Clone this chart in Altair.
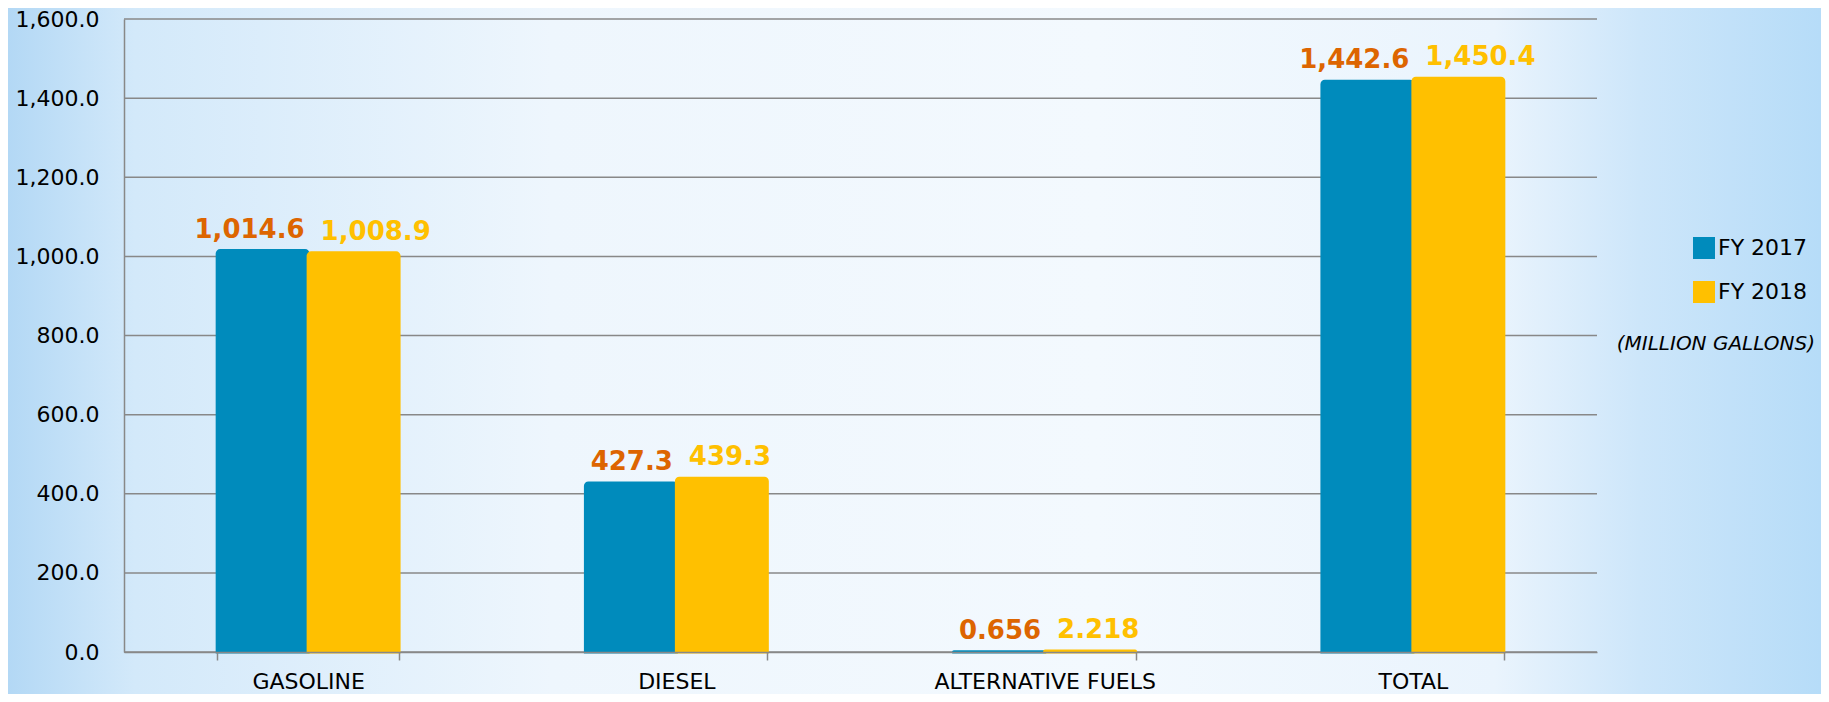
import altair as alt
import pandas as pd

categories = ["GASOLINE", "DIESEL", "ALTERNATIVE FUELS", "TOTAL"]
series = ["FY 2017", "FY 2018"]
fy2017 = [1014.6, 427.3, 0.656, 1442.6]
fy2018 = [1008.9, 439.3, 2.218, 1450.4]
labels2017 = ["1,014.6", "427.3", "0.656", "1,442.6"]
labels2018 = ["1,008.9", "439.3", "2.218", "1,450.4"]
y_ticks = [0, 200, 400, 600, 800, 1000, 1200, 1400, 1600]
bar_colors = ["#008BBC", "#FFC000"]
label_colors = ["#DD6500", "#FFC000"]
unit_note = "(MILLION GALLONS)"

rows = []
for i, c in enumerate(categories):
    rows.append({"category": c, "series": series[0], "value": fy2017[i], "label": labels2017[i]})
    rows.append({"category": c, "series": series[1], "value": fy2018[i], "label": labels2018[i]})
df = pd.DataFrame(rows)

W, H = 1473, 633
PAD = {"left": 116, "top": 11, "right": 224, "bottom": 42}
FONT = "DejaVu Sans"

x_enc = alt.X("category:N", sort=categories,
              scale=alt.Scale(paddingInner=0.506, paddingOuter=0.253),
              axis=alt.Axis(title=None, labelAngle=0, labelFontSize=22, labelColor="#000000",
                            labelFont=FONT, labelLimit=500, tickBand="extent", tickSize=8,
                            tickColor="#888888", tickWidth=1.5, domainColor="#888888",
                            domainWidth=1.5, labelPadding=11, grid=False, zindex=1))
xoff = alt.XOffset("series:N", sort=series, scale=alt.Scale(paddingInner=0, paddingOuter=0))
y_scale = alt.Scale(domain=[0, 1600], nice=False)
y_enc = alt.Y("value:Q", scale=y_scale,
              axis=alt.Axis(title=None, values=y_ticks, format=",.1f", labelFontSize=22,
                            labelColor="#000000", labelFont=FONT, ticks=False, labelPadding=25,
                            domainColor="#888888", domainWidth=1.5, grid=False, zindex=1))

color_scale = alt.Scale(domain=series, range=bar_colors)

bg = alt.Chart(alt.Data(values=[{"k": 1}])).mark_rect(
    fill=alt.LinearGradient(
        gradient="linear", x1=0, y1=0, x2=1, y2=0,
        stops=[
            alt.GradientStop(offset=0.0, color="#B3D8F5"),
            alt.GradientStop(offset=0.07, color="#D3E9FA"),
            alt.GradientStop(offset=0.3, color="#EEF6FD"),
            alt.GradientStop(offset=0.6, color="#F3F9FE"),
            alt.GradientStop(offset=0.82, color="#EAF4FD"),
            alt.GradientStop(offset=0.9, color="#CDE6FA"),
            alt.GradientStop(offset=1.0, color="#B6DCF8"),
        ],
    )
).encode(
    x=alt.value(-PAD["left"]), x2=alt.value(W + PAD["right"]),
    y=alt.value(-PAD["top"]), y2=alt.value(H + PAD["bottom"]),
)

grid = alt.Chart(pd.DataFrame({"value": y_ticks})).mark_rule(
    color="#888888", strokeWidth=1.5
).encode(y=alt.Y("value:Q", scale=y_scale))

bars = alt.Chart(df).mark_bar(strokeWidth=3, cornerRadiusTopLeft=3, cornerRadiusTopRight=3).encode(
    x=x_enc, xOffset=xoff, y=y_enc,
    color=alt.Color("series:N", scale=color_scale, sort=series,
                    legend=alt.Legend(title=None, orient="none", legendX=1569, legendY=218,
                                      symbolType="square", symbolSize=484, symbolStrokeWidth=0,
                                      labelFontSize=22, labelFont=FONT, labelColor="#000000",
                                      rowPadding=22, labelOffset=3, padding=0)),
    stroke=alt.Stroke("series:N", scale=color_scale, legend=None),
)

t17 = alt.Chart(df).transform_filter(alt.datum.series == series[0]).mark_text(
    font=FONT, fontSize=26, fontWeight="bold", color=label_colors[0],
    align="right", baseline="alphabetic", dx=42, dy=-13
).encode(x=alt.X("category:N", sort=categories), xOffset=xoff,
         y=alt.Y("value:Q", scale=y_scale), text="label:N")

t18 = alt.Chart(df).transform_filter(alt.datum.series == series[1]).mark_text(
    font=FONT, fontSize=26, fontWeight="bold", color=label_colors[1],
    align="left", baseline="alphabetic", dx=-33, dy=-13
).encode(x=alt.X("category:N", sort=categories), xOffset=xoff,
         y=alt.Y("value:Q", scale=y_scale), text="label:N")

note = alt.Chart(alt.Data(values=[{"t": unit_note}])).mark_text(
    font=FONT, fontSize=20, fontStyle="italic", color="#000000",
    align="right", baseline="alphabetic"
).encode(x=alt.value(1691), y=alt.value(331), text="t:N")

chart = alt.layer(bg, grid, bars, t17, t18, note).properties(
    width=W, height=H,
    autosize=alt.AutoSizeParams(type="none"),
    padding=PAD,
    background="#E5F1FC",
).configure_view(stroke=None)

chart.save("out.html", embed_options={"renderer": "svg", "actions": False})
